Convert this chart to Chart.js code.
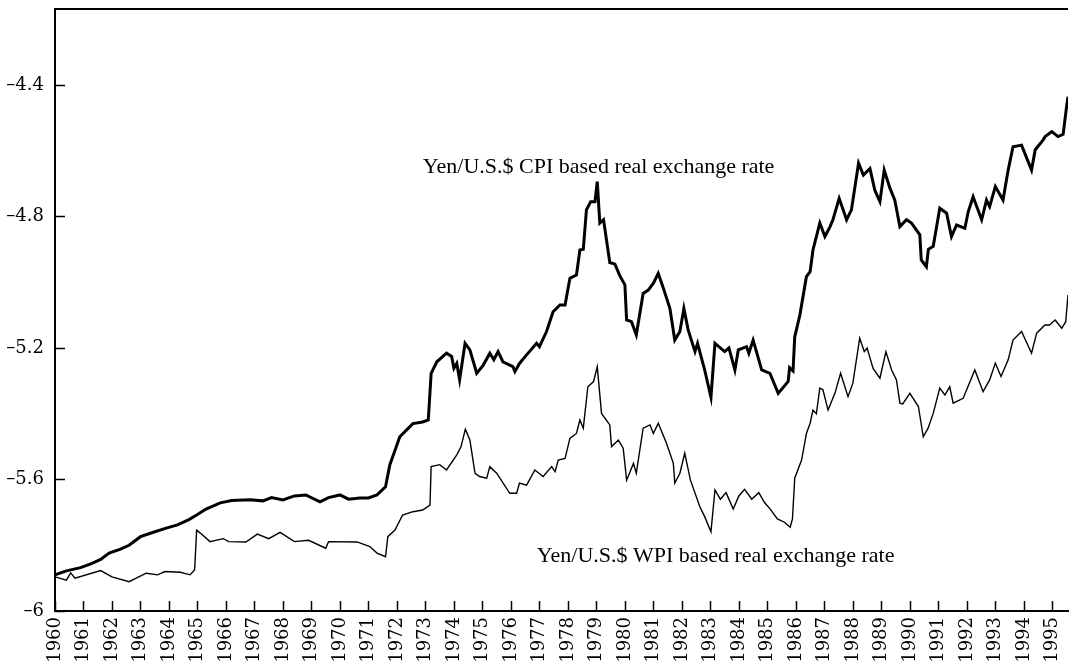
<!DOCTYPE html>
<html>
<head>
<meta charset="utf-8">
<script src="https://cdn.jsdelivr.net/npm/chart.js@4.4.1/dist/chart.umd.min.js"></script>
<style>
  html, body { margin: 0; padding: 0; background: #fff; }
  #wrap { width: 1074px; height: 669px; }
</style>
</head>
<body>
<div id="wrap"><canvas id="c" width="1074" height="669"></canvas></div>
<script>
// ---- Data (log real exchange rates) ----
const xTickYears = [1960,1961,1962,1963,1964,1965,1966,1967,1968,1969,1970,1971,1972,1973,1974,1975,1976,1977,1978,1979,1980,1981,1982,1983,1984,1985,1986,1987,1988,1989,1990,1991,1992,1993,1994,1995];
const yTickValues = [-6, -5.6, -5.2, -4.8, -4.4];

const cpiLabel = "Yen/U.S.$ CPI based real exchange rate";
const wpiLabel = "Yen/U.S.$ WPI based real exchange rate";

const cpiYears = [1960.0,1960.4,1960.9,1961.3,1961.6,1961.9,1962.3,1962.6,1963.0,1963.4,1963.9,1964.3,1964.7,1964.97,1965.3,1965.8,1966.2,1966.84,1967.3,1967.6,1968.0,1968.4,1968.8,1969.3,1969.6,1970.0,1970.3,1970.7,1971.0,1971.3,1971.6,1971.75,
1972.1,1972.34,1972.56,1972.9,1973.1,1973.2,1973.4,1973.74,1973.92,1974.0,1974.1,1974.2,1974.39,1974.56,1974.8,1975.03,1975.26,1975.4,1975.55,1975.72,1976.07,1976.14,1976.3,1976.55,1976.9,1977.0,1977.25,1977.48,1977.72,1977.9,1978.07,1978.3,1978.42,1978.54,1978.65,1978.8,1978.95,1979.03,1979.12,1979.25,1979.47,1979.65,1979.82,1980.0,1980.06,1980.23,1980.4,1980.64,1980.82,1981.0,1981.17,1981.35,1981.58,1981.75,1981.93,1982.07,1982.22,1982.46,1982.55,1982.8,1983.02,1983.16,1983.5,1983.65,1983.86,1983.98,1984.27,1984.35,1984.5,1984.8,1985.09,1985.38,1985.73,1985.78,1985.9,1985.96,1986.14,1986.37,1986.5,1986.6,1986.84,1987.02,1987.2,1987.3,1987.52,1987.78,1987.95,1988.2,1988.37,1988.6,1988.77,1988.95,1989.1,1989.3,1989.47,1989.65,1989.88,1990.06,1990.35,1990.4,1990.58,1990.65,1990.82,1991.05,1991.29,1991.46,1991.64,1991.93,1992.05,1992.22,1992.52,1992.69,1992.8,1993.0,1993.27,1993.45,1993.62,1993.92,1994.27,1994.4,1994.68,1994.75,1994.98,1995.2,1995.38,1995.5,1995.55];
const cpiValues = [-5.890,-5.878,-5.868,-5.855,-5.843,-5.824,-5.812,-5.800,-5.774,-5.762,-5.748,-5.738,-5.722,-5.708,-5.690,-5.671,-5.664,-5.662,-5.665,-5.655,-5.662,-5.650,-5.647,-5.668,-5.655,-5.647,-5.660,-5.656,-5.656,-5.647,-5.622,-5.556,
-5.470,-5.449,-5.430,-5.425,-5.419,-5.277,-5.242,-5.216,-5.226,-5.262,-5.247,-5.297,-5.186,-5.206,-5.277,-5.252,-5.216,-5.236,-5.211,-5.242,-5.257,-5.272,-5.247,-5.221,-5.186,-5.196,-5.150,-5.090,-5.069,-5.069,-4.988,-4.978,-4.902,-4.900,-4.780,-4.755,-4.755,-4.694,-4.820,-4.810,-4.940,-4.945,-4.980,-5.008,-5.115,-5.120,-5.160,-5.034,-5.024,-5.003,-4.973,-5.018,-5.080,-5.176,-5.150,-5.080,-5.145,-5.211,-5.186,-5.267,-5.350,-5.186,-5.211,-5.200,-5.267,-5.206,-5.196,-5.216,-5.176,-5.267,-5.277,-5.338,-5.302,-5.260,-5.270,-5.166,-5.100,-4.983,-4.968,-4.902,-4.820,-4.861,-4.831,-4.810,-4.745,-4.810,-4.780,-4.638,-4.674,-4.654,-4.720,-4.755,-4.659,-4.714,-4.750,-4.831,-4.810,-4.820,-4.856,-4.932,-4.953,-4.900,-4.891,-4.775,-4.790,-4.861,-4.826,-4.836,-4.785,-4.740,-4.810,-4.750,-4.770,-4.709,-4.750,-4.659,-4.588,-4.583,-4.659,-4.597,-4.567,-4.557,-4.542,-4.557,-4.550,-4.466,-4.436];

const wpiYears = [1960.0,1960.4,1960.55,1960.7,1961.6,1962.0,1962.6,1963.2,1963.6,1963.86,1964.4,1964.74,1964.9,1964.97,1965.1,1965.44,1965.9,1966.1,1966.7,1967.1,1967.5,1967.9,1968.4,1968.9,1969.5,1969.6,1970.6,1971.05,1971.3,1971.6,1971.68,1971.93,1972.2,1972.56,1972.9,1973.16,1973.2,1973.5,1973.74,1974.1,1974.25,1974.4,1974.56,1974.74,1974.9,1975.15,1975.26,1975.5,1975.96,1976.2,1976.3,1976.55,1976.84,1977.13,1977.43,1977.55,1977.66,1977.9,1978.07,1978.3,1978.42,1978.54,1978.7,1978.9,1979.03,1979.18,1979.47,1979.53,1979.77,1979.94,1980.06,1980.3,1980.4,1980.64,1980.88,1981.0,1981.17,1981.46,1981.7,1981.75,1981.93,1982.1,1982.3,1982.63,1982.8,1983.02,1983.16,1983.35,1983.55,1983.8,1984.0,1984.2,1984.45,1984.7,1984.9,1985.1,1985.35,1985.6,1985.8,1985.88,1985.96,1986.2,1986.37,1986.5,1986.6,1986.72,1986.84,1986.95,1987.13,1987.37,1987.57,1987.83,1988.0,1988.24,1988.4,1988.5,1988.71,1988.95,1989.16,1989.36,1989.53,1989.65,1989.75,1990.0,1990.3,1990.47,1990.64,1990.82,1991.05,1991.23,1991.4,1991.52,1991.87,1992.28,1992.57,1992.8,1993.0,1993.2,1993.45,1993.62,1993.92,1994.27,1994.45,1994.74,1994.9,1995.1,1995.33,1995.47,1995.55];
const wpiValues = [-5.896,-5.906,-5.884,-5.900,-5.877,-5.896,-5.911,-5.885,-5.890,-5.880,-5.882,-5.890,-5.875,-5.754,-5.763,-5.789,-5.780,-5.789,-5.790,-5.766,-5.780,-5.761,-5.789,-5.785,-5.809,-5.789,-5.790,-5.804,-5.824,-5.835,-5.774,-5.754,-5.708,-5.698,-5.693,-5.678,-5.561,-5.555,-5.571,-5.525,-5.500,-5.447,-5.480,-5.581,-5.591,-5.596,-5.561,-5.581,-5.642,-5.642,-5.611,-5.617,-5.571,-5.591,-5.561,-5.576,-5.541,-5.536,-5.475,-5.460,-5.419,-5.444,-5.318,-5.302,-5.257,-5.399,-5.434,-5.500,-5.480,-5.505,-5.602,-5.551,-5.581,-5.444,-5.434,-5.460,-5.429,-5.490,-5.551,-5.611,-5.581,-5.520,-5.602,-5.683,-5.713,-5.759,-5.632,-5.660,-5.640,-5.690,-5.650,-5.630,-5.660,-5.640,-5.670,-5.690,-5.720,-5.730,-5.745,-5.720,-5.596,-5.541,-5.460,-5.429,-5.389,-5.400,-5.322,-5.327,-5.389,-5.338,-5.277,-5.348,-5.307,-5.170,-5.211,-5.200,-5.262,-5.292,-5.211,-5.267,-5.297,-5.368,-5.370,-5.338,-5.378,-5.470,-5.444,-5.399,-5.322,-5.343,-5.318,-5.368,-5.353,-5.267,-5.333,-5.297,-5.246,-5.287,-5.236,-5.176,-5.150,-5.216,-5.155,-5.130,-5.130,-5.115,-5.140,-5.120,-5.039];

// ---- Chart ----
const serif = "'DejaVu Serif', serif";
const labelFont = "22px 'Liberation Serif', serif";

const frameAndLabels = {
  id: 'frameAndLabels',
  afterDraw(chart) {
    const {ctx, chartArea: a, scales: {x, y}} = chart;
    ctx.save();
    ctx.strokeStyle = '#000';
    // top frame line
    ctx.lineWidth = 2;
    ctx.beginPath();
    ctx.moveTo(a.left - 1, a.top);
    ctx.lineTo(a.right, a.top);
    ctx.stroke();
    // inward ticks
    ctx.lineWidth = 1.5;
    x.ticks.forEach(t => {
      const px = Math.round(x.getPixelForValue(t.value)) + 0.5;
      ctx.beginPath(); ctx.moveTo(px, a.bottom); ctx.lineTo(px, a.bottom - 10); ctx.stroke();
    });
    y.ticks.forEach(t => {
      const py = Math.round(y.getPixelForValue(t.value)) + 0.5;
      ctx.beginPath(); ctx.moveTo(a.left, py); ctx.lineTo(a.left + 10, py); ctx.stroke();
    });
    // series labels
    ctx.fillStyle = '#000';
    ctx.font = labelFont;
    ctx.textAlign = 'left';
    ctx.textBaseline = 'alphabetic';
    ctx.fillText(cpiLabel, x.getPixelForValue(1972.91), y.getPixelForValue(-4.668));
    ctx.fillText(wpiLabel, x.getPixelForValue(1976.91), y.getPixelForValue(-5.851));
    ctx.restore();
  }
};

new Chart(document.getElementById('c'), {
  type: 'line',
  data: {
    datasets: [
      {
        label: cpiLabel,
        data: cpiYears.map((v, i) => ({x: v, y: cpiValues[i]})),
        borderColor: '#000',
        borderWidth: 3,
        pointRadius: 0,
        tension: 0,
        fill: false
      },
      {
        label: wpiLabel,
        data: wpiYears.map((v, i) => ({x: v, y: wpiValues[i]})),
        borderColor: '#000',
        borderWidth: 1.4,
        pointRadius: 0,
        tension: 0,
        fill: false
      }
    ]
  },
  options: {
    responsive: false,
    animation: false,
    devicePixelRatio: 1,
    layout: { padding: { top: 9, right: 6, left: 0, bottom: 0 } },
    plugins: { legend: { display: false }, tooltip: { enabled: false } },
    scales: {
      x: {
        type: 'linear',
        min: 1960,
        max: 1995.55,
        afterFit(s) { s.height = 58; s.paddingLeft = 0; s.paddingRight = 0; },
        afterBuildTicks(s) { s.ticks = xTickYears.map(v => ({value: v})); },
        grid: { display: false, drawTicks: false },
        border: { display: true, color: '#000', width: 2 },
        ticks: {
          autoSkip: false,
          minRotation: 90,
          maxRotation: 90,
          padding: 6,
          color: '#000',
          font: { family: serif, size: 18 },
          callback: v => String(v)
        }
      },
      y: {
        type: 'linear',
        min: -6,
        max: -4.169,
        afterFit(s) { s.width = 55; s.paddingTop = 0; s.paddingBottom = 0; },
        afterBuildTicks(s) { s.ticks = yTickValues.map(v => ({value: v})); },
        grid: { display: false, drawTicks: false },
        border: { display: true, color: '#000', width: 2 },
        ticks: {
          padding: 11,
          color: '#000',
          font: { family: serif, size: 18 },
          callback: v => '\u2013' + (Number.isInteger(v) ? Math.abs(v) : Math.abs(v).toFixed(1))
        }
      }
    }
  },
  plugins: [frameAndLabels]
});
</script>
</body>
</html>
